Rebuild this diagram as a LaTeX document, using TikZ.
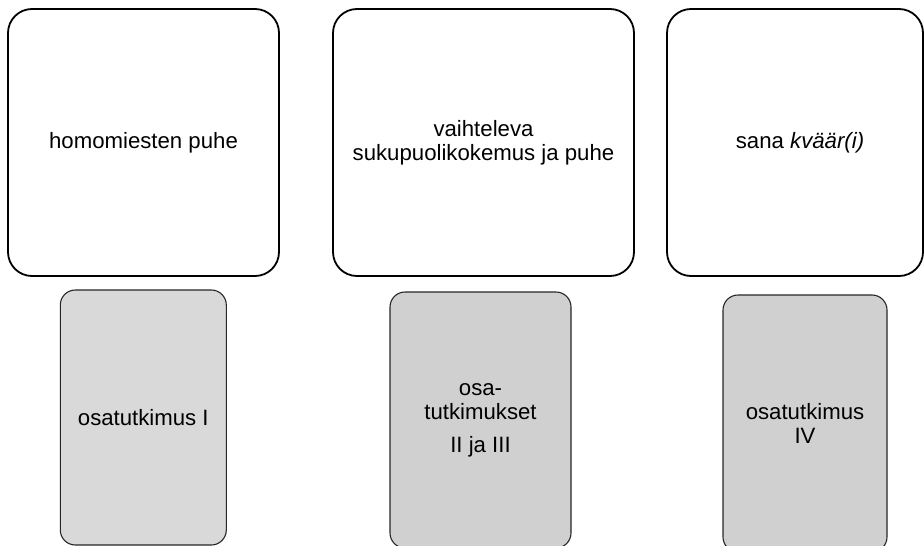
\documentclass[tikz,border=0pt]{standalone}
\usepackage{fontspec}
\setmainfont{Liberation Sans}
\definecolor{boxA}{HTML}{D9D9D9}
\definecolor{boxB}{HTML}{D0D0D0}
\begin{document}
\begin{tikzpicture}[x=1pt,y=-1pt,
  topbox/.style={draw=black, line width=1.8pt, rounded corners=24pt, fill=white,
    minimum height=267pt, align=center, inner sep=0pt,
    font=\fontsize{22.2}{24}\selectfont},
  lowbox/.style={draw=black!85, line width=1.1pt, rounded corners=15pt,
    align=center, inner sep=0pt, font=\fontsize{22.2}{24}\selectfont}]
\useasboundingbox (0,0) rectangle (924,546);
\node[topbox, minimum width=271pt] (t1) at (143.5,142.5) {homomiesten puhe};
\node[topbox, minimum width=301pt] (t2) at (483.5,142.5) {vaihteleva\\sukupuolikokemus ja puhe};
\node[topbox, minimum width=256pt] (t3) at (795,142.5) {\hspace{10pt}sana \textit{kväär(i)}};
\node[lowbox, fill=boxA, minimum width=166pt, minimum height=255pt] (b1) at (143.3,417.5) {osatutkimus I};
\node[lowbox, fill=boxB, minimum width=181pt, minimum height=256pt] (b2) at (480.5,420) {osa-\\tutkimukset\\[9pt]II ja III};
\node[lowbox, fill=boxB, minimum width=164pt, minimum height=257pt] (b3) at (805,423.5) {osatutkimus\\IV};
\end{tikzpicture}
\end{document}
